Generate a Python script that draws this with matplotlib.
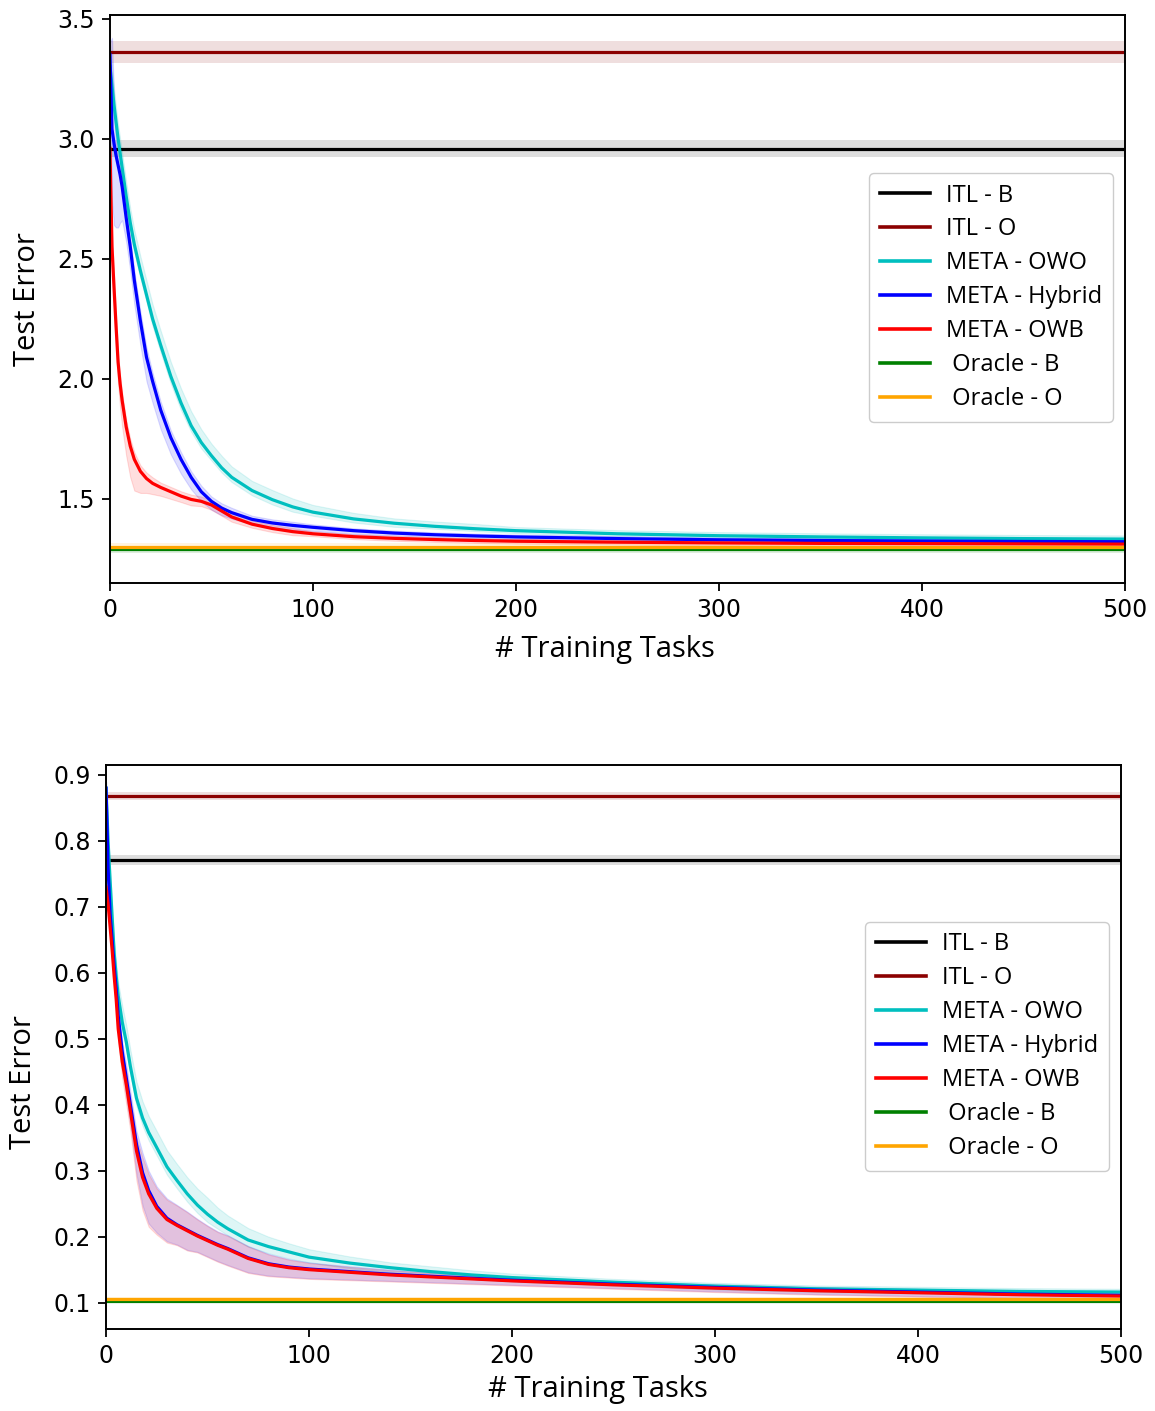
import matplotlib
matplotlib.use("Agg")
from matplotlib import pyplot as plt
import numpy as np

# number of training tasks where the curves were read
tasks = [0, 1, 2, 3, 4, 5, 6, 8, 10, 12, 15, 18, 21, 25, 30, 35, 40, 45, 50, 55, 60,
         70, 80, 90, 100, 120, 140, 160, 180, 200, 250, 300, 350, 400, 450, 500]

labels = ["ITL - B", "ITL - O", "META - OWO", "META - Hybrid", "META - OWB", " Oracle - B", " Oracle - O"]

# ---- top panel ----
top_itl_b, top_itl_b_sd = 2.958, 0.035
top_itl_o, top_itl_o_sd = 3.36, 0.045
top_oracle_b, top_oracle_o, top_oracle_sd = 1.29, 1.30, 0.015

top_owo = [3.30, 3.22, 3.14, 3.07, 3.00, 2.94, 2.88, 2.76, 2.65, 2.56, 2.45, 2.35, 2.25, 2.14, 2.01, 1.90,
           1.805, 1.735, 1.68, 1.63, 1.59, 1.535, 1.497, 1.467, 1.445, 1.417, 1.399, 1.386, 1.376, 1.368,
           1.355, 1.347, 1.342, 1.338, 1.335, 1.333]
top_owo_lo = [0.05, 0.05, 0.05, 0.04, 0.04, 0.04, 0.04, 0.04, 0.04, 0.035, 0.03, 0.03, 0.03, 0.03, 0.03, 0.03,
              0.025, 0.025, 0.02, 0.02, 0.02, 0.02, 0.02, 0.02, 0.015, 0.015, 0.015, 0.01, 0.01, 0.01,
              0.01, 0.01, 0.01, 0.01, 0.01, 0.01]
top_owo_hi = [0.10, 0.08, 0.07, 0.06, 0.06, 0.06, 0.06, 0.06, 0.06, 0.06, 0.06, 0.06, 0.06, 0.06, 0.06, 0.06,
              0.06, 0.055, 0.05, 0.05, 0.045, 0.04, 0.04, 0.035, 0.03, 0.025, 0.02, 0.02, 0.02, 0.015,
              0.015, 0.015, 0.015, 0.015, 0.015, 0.015]

top_hyb = [3.35, 3.04, 2.98, 2.93, 2.89, 2.85, 2.80, 2.67, 2.55, 2.41, 2.24, 2.09, 1.99, 1.87, 1.755, 1.665,
           1.59, 1.53, 1.49, 1.462, 1.443, 1.415, 1.40, 1.39, 1.382, 1.368, 1.358, 1.351, 1.346, 1.342,
           1.335, 1.33, 1.327, 1.325, 1.323, 1.322]
top_hyb_lo = [0.05, 0.30, 0.34, 0.30, 0.26, 0.20, 0.14, 0.10, 0.10, 0.10, 0.10, 0.10, 0.09, 0.08, 0.07, 0.06,
              0.05, 0.04, 0.035, 0.03, 0.025, 0.02, 0.02, 0.02, 0.015, 0.015, 0.01, 0.01, 0.01, 0.01,
              0.01, 0.01, 0.01, 0.01, 0.01, 0.01]
top_hyb_hi = [0.05, 0.38, 0.20, 0.06, 0.04, 0.04, 0.04, 0.04, 0.04, 0.04, 0.04, 0.04, 0.035, 0.035, 0.03, 0.03,
              0.025, 0.025, 0.02, 0.02, 0.02, 0.015, 0.015, 0.015, 0.012, 0.01, 0.01, 0.01, 0.01, 0.01,
              0.01, 0.01, 0.01, 0.01, 0.01, 0.01]

top_owb = [2.96, 2.55, 2.38, 2.22, 2.07, 1.98, 1.91, 1.80, 1.72, 1.665, 1.615, 1.585, 1.565, 1.548, 1.53, 1.512,
           1.498, 1.49, 1.475, 1.45, 1.425, 1.395, 1.377, 1.364, 1.355, 1.343, 1.336, 1.331, 1.327, 1.324,
           1.32, 1.317, 1.315, 1.314, 1.313, 1.312]
top_owb_lo = [0.02, 0.06, 0.08, 0.09, 0.09, 0.10, 0.11, 0.12, 0.13, 0.13, 0.09, 0.06, 0.045, 0.035, 0.03, 0.025,
              0.025, 0.02, 0.02, 0.02, 0.02, 0.015, 0.015, 0.015, 0.01, 0.01, 0.01, 0.01, 0.01, 0.01,
              0.01, 0.01, 0.01, 0.01, 0.01, 0.01]
top_owb_hi = [0.02, 0.06, 0.05, 0.04, 0.035, 0.03, 0.03, 0.03, 0.03, 0.03, 0.025, 0.025, 0.025, 0.02, 0.02, 0.02,
              0.02, 0.02, 0.02, 0.02, 0.02, 0.015, 0.015, 0.015, 0.01, 0.01, 0.01, 0.01, 0.01, 0.01,
              0.01, 0.01, 0.01, 0.01, 0.01, 0.01]

# ---- bottom panel ----
bot_itl_b, bot_itl_b_sd = 0.771, 0.008
bot_itl_o, bot_itl_o_sd = 0.868, 0.006
bot_oracle_b, bot_oracle_o, bot_oracle_sd = 0.102, 0.106, 0.003

bot_owo = [0.88, 0.80, 0.74, 0.685, 0.63, 0.595, 0.565, 0.525, 0.495, 0.458, 0.41, 0.38, 0.358, 0.335, 0.306,
           0.285, 0.265, 0.248, 0.234, 0.222, 0.212, 0.195, 0.185, 0.177, 0.169, 0.16, 0.153, 0.147, 0.142,
           0.138, 0.131, 0.125, 0.121, 0.119, 0.117, 0.116]
bot_owo_lo = [0.01, 0.01, 0.01, 0.01, 0.012, 0.012, 0.012, 0.012, 0.012, 0.012, 0.012, 0.012, 0.012, 0.012,
              0.012, 0.012, 0.012, 0.012, 0.012, 0.01, 0.01, 0.01, 0.01, 0.01, 0.008, 0.008, 0.007, 0.006,
              0.006, 0.006, 0.005, 0.005, 0.005, 0.005, 0.005, 0.005]
bot_owo_hi = [0.01, 0.01, 0.015, 0.015, 0.02, 0.02, 0.02, 0.025, 0.025, 0.025, 0.025, 0.025, 0.025, 0.025,
              0.025, 0.025, 0.025, 0.025, 0.025, 0.022, 0.02, 0.018, 0.015, 0.013, 0.012, 0.01, 0.008, 0.008,
              0.007, 0.006, 0.005, 0.005, 0.005, 0.005, 0.005, 0.005]

bot_hyb = [0.88, 0.76, 0.69, 0.65, 0.61, 0.575, 0.535, 0.48, 0.44, 0.40, 0.34, 0.297, 0.27, 0.246, 0.228,
           0.218, 0.21, 0.202, 0.195, 0.188, 0.182, 0.168, 0.159, 0.154, 0.151, 0.147, 0.143, 0.14, 0.137,
           0.134, 0.128, 0.123, 0.119, 0.116, 0.113, 0.111]
bot_owb = [0.73, 0.705, 0.67, 0.635, 0.595, 0.56, 0.515, 0.465, 0.43, 0.39, 0.33, 0.29, 0.265, 0.243, 0.226,
           0.217, 0.209, 0.201, 0.194, 0.187, 0.181, 0.167, 0.158, 0.153, 0.15, 0.146, 0.142, 0.139, 0.136,
           0.133, 0.127, 0.122, 0.118, 0.115, 0.112, 0.11]
bot_meta_lo = [0.01, 0.01, 0.01, 0.01, 0.015, 0.015, 0.02, 0.025, 0.03, 0.03, 0.045, 0.05, 0.05, 0.04, 0.035,
               0.03, 0.03, 0.025, 0.025, 0.025, 0.025, 0.022, 0.018, 0.015, 0.014, 0.012, 0.01, 0.009, 0.008,
               0.007, 0.006, 0.006, 0.006, 0.006, 0.006, 0.006]
bot_meta_hi = [0.01, 0.01, 0.01, 0.01, 0.01, 0.01, 0.01, 0.015, 0.02, 0.02, 0.02, 0.03, 0.03, 0.03, 0.03,
               0.03, 0.028, 0.025, 0.022, 0.02, 0.02, 0.018, 0.015, 0.012, 0.01, 0.008, 0.007, 0.006, 0.005,
               0.005, 0.005, 0.005, 0.005, 0.005, 0.005, 0.005]

c_itl_b, c_itl_o = "black", "#8b0000"
c_owo, c_hyb, c_owb = "#00bfbf", "#0000ff", "#ff0000"
c_orb, c_oro = "#008000", "#ffa500"

label_font = "Open Sans"
lw = 2.3


def band(ax, y, lo, hi, color):
    y = np.array(y)
    ax.fill_between(tasks, y - np.array(lo), y + np.array(hi), color=color, alpha=0.13, lw=0.8)


def hline(ax, y, sd, color, label):
    ax.axhspan(y - sd, y + sd, color=color, alpha=0.13, lw=0)
    ax.axhline(y, color=color, lw=lw, label=label)


def panel(ax, itl_b, itl_o, oracle_b, oracle_o, owo, hyb, owb, bands, ylim, yticks, xpad):
    hline(ax, itl_b[0], itl_b[1], c_itl_b, labels[0])
    hline(ax, itl_o[0], itl_o[1], c_itl_o, labels[1])
    for y, (lo, hi), c in zip([owo, hyb, owb], bands, [c_owo, c_hyb, c_owb]):
        band(ax, y, lo, hi, c)
    ax.plot(tasks, owo, color=c_owo, lw=lw, label=labels[2])
    ax.plot(tasks, hyb, color=c_hyb, lw=lw, label=labels[3])
    ax.plot(tasks, owb, color=c_owb, lw=lw, label=labels[4])
    hline(ax, oracle_b[0], oracle_b[1], c_orb, labels[5])
    hline(ax, oracle_o[0], oracle_o[1], c_oro, labels[6])

    ax.set_xlim(0, 500)
    ax.set_ylim(*ylim)
    ax.set_xticks([0, 100, 200, 300, 400, 500])
    ax.set_yticks(yticks)
    ax.set_yticklabels(["%.1f" % t for t in yticks])
    ax.tick_params(labelsize=17, length=6, width=1.3, pad=5, colors="black")
    for s in ax.spines.values():
        s.set_linewidth(1.4)
    ax.set_xlabel("# Training Tasks", fontsize=21, family=label_font, labelpad=xpad)
    ax.set_ylabel("Test Error", fontsize=21, family=label_font, labelpad=11)
    leg = ax.legend(loc="upper right", bbox_to_anchor=(0.988, 0.722), borderaxespad=0,
                    prop={"family": label_font, "size": 17},
                    handlelength=2.1, labelspacing=0.42, borderpad=0.45, handletextpad=0.7,
                    fancybox=True, framealpha=1, edgecolor="#cccccc")
    for l in leg.get_lines():
        l.set_linewidth(2.6)


fig = plt.figure(figsize=(11.55, 14.11), dpi=100)
ax1 = fig.add_axes([0.0952, 0.5868, 0.8788, 0.4026])
ax2 = fig.add_axes([0.0918, 0.0581, 0.8788, 0.3997])

panel(ax1, (top_itl_b, top_itl_b_sd), (top_itl_o, top_itl_o_sd),
      (top_oracle_b, top_oracle_sd), (top_oracle_o, top_oracle_sd),
      top_owo, top_hyb, top_owb,
      [(top_owo_lo, top_owo_hi), (top_hyb_lo, top_hyb_hi), (top_owb_lo, top_owb_hi)],
      (1.15, 3.515), [1.5, 2.0, 2.5, 3.0, 3.5], 9)

panel(ax2, (bot_itl_b, bot_itl_b_sd), (bot_itl_o, bot_itl_o_sd),
      (bot_oracle_b, bot_oracle_sd), (bot_oracle_o, bot_oracle_sd),
      bot_owo, bot_hyb, bot_owb,
      [(bot_owo_lo, bot_owo_hi), (bot_meta_lo, bot_meta_hi), (bot_meta_lo, bot_meta_hi)],
      (0.06, 0.915), [0.1, 0.2, 0.3, 0.4, 0.5, 0.6, 0.7, 0.8, 0.9], 5)

# label placement as in the original figure
ax1.xaxis.label.set_x(0.488)
ax2.xaxis.label.set_x(0.485)
ax2.yaxis.label.set_y(0.438)

fig.savefig("out.png", dpi=100)
